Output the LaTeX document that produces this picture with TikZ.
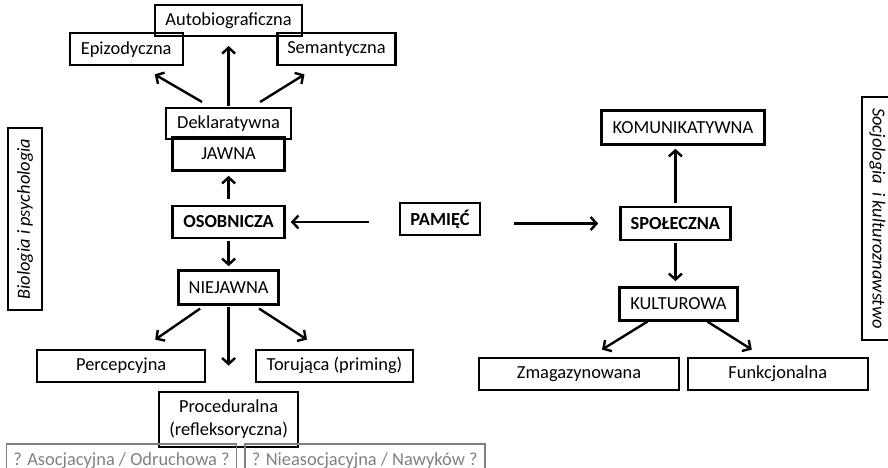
\documentclass[tikz,border=0pt]{standalone}
\usepackage{fontspec}
\setmainfont{Carlito}
\usetikzlibrary{arrows.meta, positioning}
\tikzset{
    >=Latex,
    x=1pt, y=1pt,
    mem_box/.style={
        rectangle,
        draw=black,
        line width=2.4pt,
        inner sep=0pt,
        minimum height=32pt,
        align=center,
        font=\fontsize{18.4}{23}\selectfont
    },
    mem_key/.style={
        mem_box,
        font=\fontsize{18.4}{23}\selectfont\bfseries
    },
    mem_guess/.style={
        rectangle,
        draw=gray,
        line width=1.8pt,
        text=gray,
        inner sep=0pt,
        minimum height=33pt,
        font=\fontsize{18.4}{23}\selectfont
    },
    mem_field/.style={
        rectangle,
        draw=black,
        line width=2.2pt,
        inner sep=0pt,
        font=\fontsize{18.4}{23}\selectfont\itshape
    },
    mem_arrow/.style={
        -{Straight Barb[length=6pt, width=13pt]},
        line width=2.4pt
    }
}

\begin{document}
\begin{tikzpicture}

\useasboundingbox (0,0) rectangle (888,-468);

\node[mem_key, minimum width=80pt] (Pamiec) at (440,-219) {PAMIĘĆ};

% individual memory
\node[mem_key, minimum width=112pt, left=113pt of Pamiec, yshift=-3pt] (Osob) {OSOBNICZA};
\node[mem_box, minimum width=112pt, minimum height=33pt, above=33pt of Osob] (Jawna) {JAWNA};
\node[mem_box, minimum width=125pt, minimum height=31pt, above=-4pt of Jawna] (Dekl) {Deklaratywna};
\node[mem_box, minimum width=147pt, minimum height=31pt, above=70pt of Dekl] (Autobio) {Autobiograficzna};
\node[mem_box, minimum width=113pt, below left=-5pt and -30pt of Autobio] (Epiz) {Epizodyczna};
\node[mem_box, minimum width=118pt, below right=-5pt and -27pt of Autobio] (Seman) {Semantyczna};

\node[mem_box, minimum width=100pt, minimum height=34pt, below=30pt of Osob] (Niejawna) {NIEJAWNA};
\node[mem_box, minimum width=168pt, below left=43pt and -29pt of Niejawna] (Percep) {Percepcyjna};
\node[mem_box, minimum width=157pt, below right=43pt and -25pt of Niejawna] (Toruj) {Torująca (priming)};
\node[mem_box, minimum width=139pt, minimum height=55pt, below=85pt of Niejawna] (Proced) {Proceduralna\\(refleksoryczna)};
\node[mem_guess, minimum width=230pt, below left=-5pt and -79.5pt of Proced] (Asoc) {? Asocjacyjna / Odruchowa ?};
\node[mem_guess, minimum width=240pt, below right=-5pt and -55.5pt of Proced] (Nieasoc) {? Nieasocjacyjna / Nawyków ?};

% social memory
\node[mem_key, minimum width=110pt, minimum height=33pt, right=138pt of Pamiec, yshift=-4.5pt] (Spol) {SPOŁECZNA};
\node[mem_box, minimum width=163pt, minimum height=34pt, above=60pt of Spol, xshift=7.5pt] (Komun) {KOMUNIKATYWNA};
\node[mem_box, minimum width=118pt, minimum height=33pt, below=45pt of Spol, xshift=3pt] (Kultur) {KULTUROWA};
\node[mem_box, minimum width=200pt, below left=35pt and -62pt of Kultur] (Zmagaz) {Zmagazynowana};
\node[mem_box, minimum width=180pt, below right=35pt and -52pt of Kultur] (Funkcj) {Funkcjonalna};

% fields
\node[mem_field, rotate=90, minimum width=182pt, minimum height=34pt] (Biolog) at (25,-219) {Biologia i psychologia};
\node[mem_field, rotate=-90, minimum width=243pt, minimum height=31pt] (Socjol) at (877.5,-218.5) {Socjologia\ \ i kulturoznawstwo};

\draw[mem_arrow, shorten <=30pt, shorten >=5pt] (Pamiec.west |- Osob) -- (Osob.east);
\draw[mem_arrow, shorten <=33pt, shorten >=21pt] (Pamiec.east |- Spol) -- (Spol.west);
\draw[mem_arrow, shorten <=6pt, shorten >=4pt] (Osob.north) -- (Jawna.south);
\draw[mem_arrow] ([xshift=-26.5pt, yshift=5pt]Dekl.north) -- ([xshift=28.5pt, yshift=-8pt]Epiz.south);
\draw[mem_arrow, shorten <=1pt, shorten >=9pt] (Dekl.north) -- (Dekl.north |- Autobio.south);
\draw[mem_arrow] ([xshift=31.5pt, yshift=5pt]Dekl.north) -- ([xshift=-32pt, yshift=-8pt]Seman.south);
\draw[mem_arrow, shorten <=2pt, shorten >=3pt] (Osob.south) -- (Niejawna.north);
\draw[mem_arrow] ([xshift=-28.5pt, yshift=-3pt]Niejawna.south) -- ([xshift=34pt, yshift=9pt]Percep.north);
\draw[mem_arrow, shorten <=1pt, shorten >=25pt] (Niejawna.south) -- (Niejawna.south |- Proced.north);
\draw[mem_arrow] ([xshift=30.5pt, yshift=-3pt]Niejawna.south) -- ([xshift=-27.5pt, yshift=9pt]Toruj.north);
\draw[mem_arrow, shorten <=3pt, shorten >=3pt] (Spol.north) -- (Spol.north |- Komun.south);
\draw[mem_arrow, shorten <=2pt, shorten >=5pt] (Spol.south) -- (Spol.south |- Kultur.north);
\draw[mem_arrow] ([xshift=-31pt]Kultur.south) -- ([xshift=23pt, yshift=7pt]Zmagaz.north);
\draw[mem_arrow] ([xshift=29pt]Kultur.south) -- ([xshift=-26pt, yshift=7pt]Funkcj.north);

\end{tikzpicture}
\end{document}
